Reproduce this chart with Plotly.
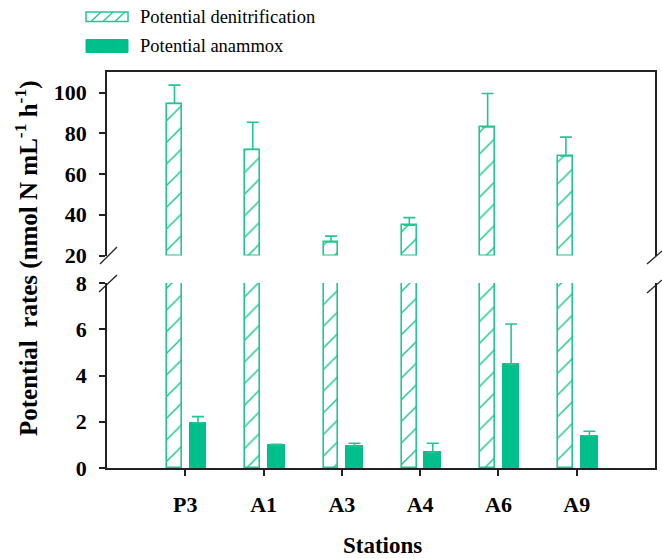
import plotly.graph_objects as go

stations = ["P3", "A1", "A3", "A4", "A6", "A9"]
denit = [94.6, 72.0, 26.7, 34.9, 83.1, 68.9]
denit_err = [9.0, 13.4, 2.8, 3.7, 16.4, 9.2]
anammox = [1.96, 1.00, 0.95, 0.68, 4.49, 1.39]
anammox_err = [0.26, 0.03, 0.12, 0.39, 1.74, 0.20]
upper_ticks = [20, 40, 60, 80, 100]
lower_ticks = [0, 2, 4, 6, 8]
legend_names = ["Potential denitrification", "Potential anammox"]

W, H = 662, 559
L, R, T, B = 107, 7, 72, 91
teal_line = "#22c690"
teal_fill = "#00bf8a"
FONT = "Liberation Serif"

plot_h = H - T - B
plot_w = W - L - R
y_up_bottom_px = 255.5
y_low_top_px = 283.0
up_dom = [(H - B - y_up_bottom_px) / plot_h, 1.0]
low_dom = [0.0, (H - B - y_low_top_px) / plot_h]
up_top = 20 + (y_up_bottom_px - T) / 2.0375
low_top = 8

def px(x, y):
    return (x - L) / plot_w, (H - B - y) / plot_h

fig = go.Figure()

pattern = dict(shape="/", fgcolor=teal_line, bgcolor="white", size=15.3,
               solidity=0.1, fgopacity=1, fillmode="replace")

# lower panel
fig.add_trace(go.Bar(
    x=stations, y=[min(v, low_top) for v in denit], xaxis="x", yaxis="y",
    offset=-0.233, width=0.19,
    marker=dict(color="white", line=dict(color=teal_line, width=1.6), pattern=pattern),
    name=legend_names[0], showlegend=False,
))
fig.add_trace(go.Bar(
    x=stations, y=anammox, xaxis="x", yaxis="y",
    offset=0.055, width=0.214,
    marker=dict(color=teal_fill, line=dict(color=teal_fill, width=1)),
    error_y=dict(type="data", array=anammox_err, arrayminus=[0]*6, symmetric=False,
                 color=teal_line, thickness=1.6, width=6),
    name=legend_names[1], showlegend=False,
))
# upper panel
fig.add_trace(go.Bar(
    x=stations, y=[v - 20 for v in denit], base=20, xaxis="x2", yaxis="y2",
    offset=-0.233, width=0.19,
    marker=dict(color="white", line=dict(color=teal_line, width=1.6), pattern=pattern),
    error_y=dict(type="data", array=denit_err, arrayminus=[0]*6, symmetric=False,
                 color=teal_line, thickness=1.6, width=6),
    name=legend_names[0], showlegend=False,
))

axis_font = dict(family=FONT, size=22, color="black", weight="bold")
fig.update_layout(
    width=W, height=H,
    margin=dict(l=L, r=R, t=T, b=B, autoexpand=False),
    paper_bgcolor="white", plot_bgcolor="white",
    bargap=0,
    xaxis=dict(domain=[0, 1], range=[-1, 6], type="category", anchor="y",
               showline=True, linecolor="#222", linewidth=1.5, mirror=False,
               ticks="outside", ticklen=6, tickwidth=1.5, tickcolor="#222",
               tickfont=axis_font, showgrid=False, zeroline=False, automargin=False,
               ticklabelstandoff=10),
    xaxis2=dict(domain=[0, 1], range=[-1, 6], type="category", anchor="y2", side="top",
                showline=True, linecolor="#222", linewidth=1.5, showticklabels=False,
                ticks="", showgrid=False, zeroline=False, matches="x", automargin=False),
    yaxis=dict(domain=low_dom, range=[0, low_top], tickvals=lower_ticks,
               showline=True, linecolor="#222", linewidth=1.5, mirror=True,
               ticks="outside", ticklen=6, tickwidth=1.5, tickcolor="#222",
               tickfont=axis_font, showgrid=False, zeroline=False, automargin=False,
               ticklabelstandoff=8),
    yaxis2=dict(domain=up_dom, range=[20, up_top], tickvals=upper_ticks,
                showline=True, linecolor="#222", linewidth=1.5, mirror=True,
                ticks="outside", ticklen=6, tickwidth=1.5, tickcolor="#222",
                tickfont=axis_font, showgrid=False, zeroline=False, automargin=False,
                ticklabelstandoff=8),
    showlegend=False,
)

# axis titles
fig.add_annotation(
    text="Potential  rates (nmol N mL<sup>-1</sup> h<sup>-1</sup>)",
    xref="paper", yref="paper", x=px(26, 0)[0], y=px(0, 258)[1],
    textangle=-90, showarrow=False, xanchor="center", yanchor="middle",
    font=dict(family=FONT, size=25, color="black", weight="bold"),
)
fig.add_annotation(
    text="Stations", xref="paper", yref="paper", x=px(382, 0)[0], y=px(0, 545)[1],
    showarrow=False, xanchor="center", yanchor="middle",
    font=dict(family=FONT, size=23, color="black", weight="bold"),
)

# axis break marks
for (x0, y0, x1, y1) in [(100, 264, 117, 247), (99, 292, 117, 275),
                         (647, 264, 662, 251), (647, 293, 662, 280)]:
    a0 = px(x0, y0); a1 = px(x1, y1)
    fig.add_shape(type="line", xref="paper", yref="paper",
                  x0=a0[0], y0=a0[1], x1=a1[0], y1=a1[1],
                  line=dict(color="#222", width=1.3))

# legend (drawn manually to match the wide swatches)
sx0, sx1 = 86, 128
rows = [(12, 21.5), (39.5, 52.5)]
a0 = px(sx0, rows[0][1]); a1 = px(sx1, rows[0][0])
fig.add_shape(type="rect", xref="paper", yref="paper", x0=a0[0], y0=a0[1], x1=a1[0], y1=a1[1],
              line=dict(color=teal_line, width=1.5), fillcolor="white")
for hx in [96, 108, 120]:
    b0 = px(hx - 5, rows[0][1]); b1 = px(hx + 5, rows[0][0])
    fig.add_shape(type="line", xref="paper", yref="paper", x0=b0[0], y0=b0[1], x1=b1[0], y1=b1[1],
                  line=dict(color=teal_line, width=1.3))
a0 = px(sx0, rows[1][1]); a1 = px(sx1, rows[1][0])
fig.add_shape(type="rect", xref="paper", yref="paper", x0=a0[0], y0=a0[1], x1=a1[0], y1=a1[1],
              line=dict(color=teal_fill, width=1), fillcolor=teal_fill)
for name, (ya, yb) in zip(legend_names, rows):
    fig.add_annotation(text=name, xref="paper", yref="paper",
                       x=px(138, 0)[0], y=px(0, (ya + yb) / 2)[1],
                       showarrow=False, xanchor="left", yanchor="middle",
                       font=dict(family=FONT, size=18.5, color="black"))

fig.write_html("out.html", config={"displayModeBar": False},
               post_script="document.body.style.margin='0';document.body.style.overflow='hidden';")
